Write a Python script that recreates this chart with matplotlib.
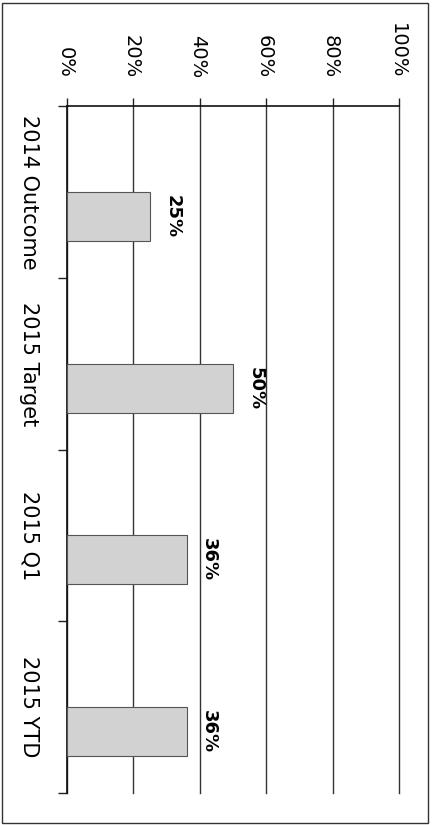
import matplotlib
matplotlib.use("Agg")
import matplotlib.pyplot as plt
from matplotlib.patches import Rectangle
from matplotlib.ticker import FixedLocator, PercentFormatter

categories = ["2014 Outcome", "2015 Target", "2015 Q1", "2015 YTD"]
values = [0.25, 0.50, 0.36, 0.36]
value_ticks = [0.0, 0.2, 0.4, 0.6, 0.8, 1.0]

W, H = 435, 825
fig = plt.figure(figsize=(W / 100, H / 100), dpi=100)
fig.patch.set_facecolor("white")

font = ["DejaVu Sans"]

ax = fig.add_axes([67 / W, 1 - 793 / H, 332 / W, 687 / H])
ax.set_xlim(0, 1)
ax.set_ylim(len(categories) - 0.5, -0.5)

ypos = list(range(len(categories)))
bar_h = 0.285
ax.barh(ypos, values, height=bar_h, align="edge", color="#d2d2d2",
        edgecolor="#555555", linewidth=0.8, zorder=3)

for y, v in zip(ypos, values):
    ax.annotate(f"{v:.0%}", xy=(v, y + bar_h / 2), xytext=(17.5, 0),
                textcoords="offset points", rotation=270,
                rotation_mode="anchor", ha="center", va="center_baseline",
                fontsize=13, fontweight="bold", family=font, zorder=4)

# value axis on top
ax.xaxis.tick_top()
ax.xaxis.set_major_locator(FixedLocator(value_ticks))
ax.xaxis.set_major_formatter(PercentFormatter(1.0, decimals=0))
ax.tick_params(axis="x", direction="out", length=6, width=1,
               color="#222222", pad=14, labelsize=14)
for lab in ax.get_xticklabels():
    lab.set_rotation(270)
    lab.set_rotation_mode("anchor")
    lab.set_family(font)
    lab.set_ha("right")
    lab.set_va("center_baseline")

ax.grid(axis="x", color="#333333", linewidth=1.0, zorder=1)
ax.set_axisbelow(True)
for gl in ax.get_xgridlines():
    gl.set_clip_on(False)

# category axis on left
ax.yaxis.set_major_locator(FixedLocator(ypos))
ax.set_yticklabels(categories)
ax.yaxis.set_minor_locator(FixedLocator([i - 0.5 for i in range(len(categories) + 1)]))
ax.tick_params(axis="y", which="major", length=0, pad=20, labelsize=15)
ax.tick_params(axis="y", which="minor", length=6.5, width=1, color="#222222")
for lab in ax.get_yticklabels():
    lab.set_rotation(270)
    lab.set_rotation_mode("anchor")
    lab.set_family(font)
    lab.set_ha("center")
    lab.set_va("top")

for side in ["right", "bottom"]:
    ax.spines[side].set_visible(False)
ax.spines["left"].set_color("#111111")
ax.spines["left"].set_linewidth(1.2)
ax.spines["top"].set_color("#111111")
ax.spines["top"].set_linewidth(1.2)

# outer border
fig.add_artist(Rectangle((2 / W, 1 - 823 / H), 426 / W, 820 / H,
                         transform=fig.transFigure, fill=False,
                         edgecolor="#333333", linewidth=1.0))

fig.savefig("out.png", dpi=100)
